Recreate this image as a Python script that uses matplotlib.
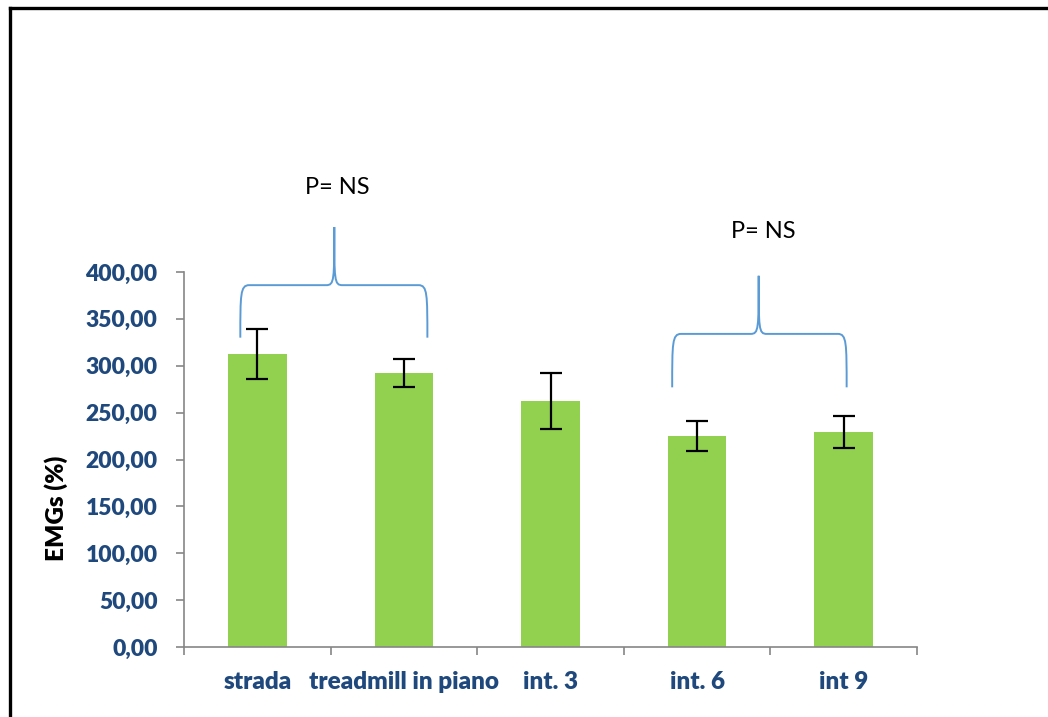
import matplotlib.pyplot as plt
from matplotlib.path import Path
from matplotlib.patches import PathPatch
from matplotlib.lines import Line2D
from matplotlib.ticker import FixedLocator, FuncFormatter

# --- data ---
categories = ["strada", "treadmill in piano", "int. 3", "int. 6", "int 9"]
emg_means = [312.9, 292.3, 262.4, 225.1, 229.3]
emg_err = [26.7, 14.8, 30.2, 16.3, 16.8]
y_ticks = [0, 50, 100, 150, 200, 250, 300, 350, 400]

# brackets: (x left, x right, x tip, y ends, y horizontal, y tip), label position
brackets = [
    ((-0.116, 1.16, 0.525, 330, 386, 448), (0.546, 490)),
    ((2.83, 4.02, 3.42, 277, 334, 396), (3.45, 443)),
]

bar_color = "#92D050"
tick_color = "#1F497D"
brace_color = "#5B9BD5"
axis_gray = "#868686"

plt.rcParams["font.family"] = ["Lato", "DejaVu Sans"]

fig = plt.figure(figsize=(10.48, 7.17), dpi=100)
ax = fig.add_axes([0.1756, 0.0976, 0.6994, 0.523])

x = list(range(len(categories)))
ax.bar(x, emg_means, width=0.4, color=bar_color, zorder=2)
ax.errorbar(x, emg_means, yerr=emg_err, fmt="none", ecolor="black",
            elinewidth=1.6, capsize=8, capthick=1.6, zorder=3)

ax.set_xlim(-0.5, len(categories) - 0.5)
ax.set_ylim(0, 400)

# y axis
ax.set_yticks(y_ticks)
ax.yaxis.set_major_formatter(FuncFormatter(lambda v, p: f"{v:.2f}".replace(".", ",")))
ax.tick_params(axis="y", direction="out", length=6, width=1.2, color=axis_gray,
               pad=13, labelsize=16.5, labelcolor=tick_color)
for lab in ax.get_yticklabels():
    lab.set_fontweight("heavy")

# x axis: ticks at category boundaries, labels at centers
ax.xaxis.set_major_locator(FixedLocator([i - 0.5 for i in range(len(categories) + 1)]))
ax.xaxis.set_major_formatter(FuncFormatter(lambda v, p: ""))
ax.xaxis.set_minor_locator(FixedLocator(x))
ax.set_xticklabels(categories, minor=True)
ax.tick_params(axis="x", which="major", direction="out", length=6, width=1.2, color=axis_gray)
ax.tick_params(axis="x", which="minor", length=0, pad=17, labelsize=17.5, labelcolor=tick_color)
for lab in ax.get_xticklabels(minor=True):
    lab.set_fontweight("heavy")

for s in ["top", "right"]:
    ax.spines[s].set_visible(False)
for s in ["left", "bottom"]:
    ax.spines[s].set_color(axis_gray)
    ax.spines[s].set_linewidth(1.2)

ax.set_ylabel("EMGs (%)", fontsize=17.5, fontweight="heavy")
ax.yaxis.set_label_coords(-0.158, 0.37)


def brace(ax, x0, x1, xm, y_end, y_h, y_tip):
    dx = 0.06
    dm = 0.055
    verts = [
        (x0, y_end),
        (x0, y_h - 10), (x0, y_h), (x0 + dx, y_h),
        (xm - dm, y_h),
        (xm, y_h), (xm, y_h + 5), (xm, y_tip),
        (xm, y_h + 5), (xm, y_h), (xm + dm, y_h),
        (x1 - dx, y_h),
        (x1, y_h), (x1, y_h - 10), (x1, y_end),
    ]
    codes = [Path.MOVETO,
             Path.CURVE4, Path.CURVE4, Path.CURVE4,
             Path.LINETO,
             Path.CURVE4, Path.CURVE4, Path.CURVE4,
             Path.CURVE4, Path.CURVE4, Path.CURVE4,
             Path.LINETO,
             Path.CURVE4, Path.CURVE4, Path.CURVE4]
    patch = PathPatch(Path(verts, codes), fill=False, edgecolor=brace_color,
                      linewidth=1.4, clip_on=False, zorder=4)
    ax.add_patch(patch)


for (x0, x1, xm, y_end, y_h, y_tip), (tx, ty) in brackets:
    brace(ax, x0, x1, xm, y_end, y_h, y_tip)
    ax.text(tx, ty, "P= NS", ha="center", va="center", fontsize=17,
            color="black", clip_on=False)

# outer frame (left and top edges)
fig.add_artist(Line2D([0.0095, 0.0095], [0.0, 0.9888], color="black", linewidth=2.4,
                      transform=fig.transFigure))
fig.add_artist(Line2D([0.0095, 1.0], [0.9888, 0.9888], color="black", linewidth=2.4,
                      transform=fig.transFigure))

fig.savefig("out.png", dpi=100)
